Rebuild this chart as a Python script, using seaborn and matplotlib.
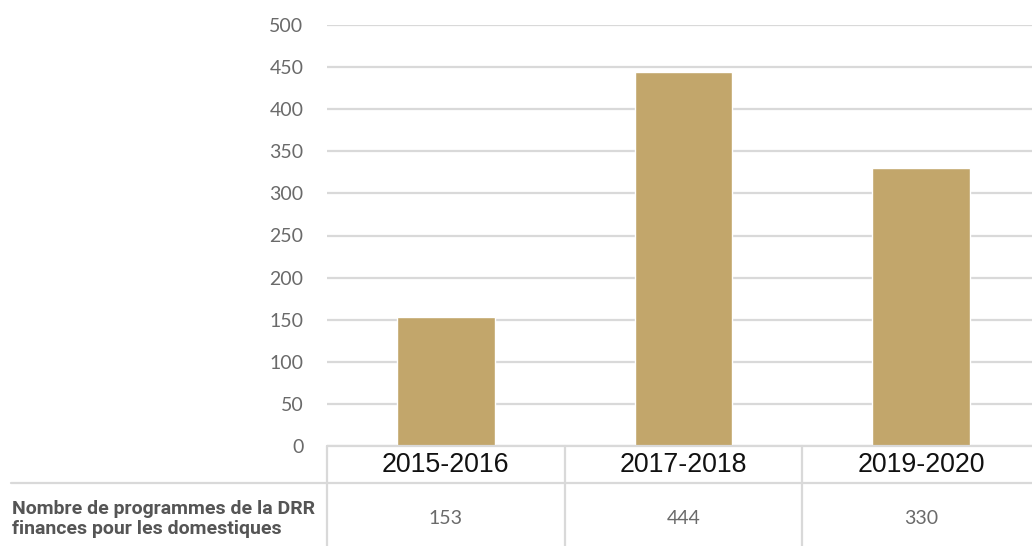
import matplotlib
matplotlib.use("Agg")
import matplotlib.pyplot as plt
import matplotlib.transforms as mtransforms
from matplotlib.lines import Line2D
import seaborn as sns
import pandas as pd

categories = ["2015-2016", "2017-2018", "2019-2020"]
values = [153, 444, 330]
row_label = "Nombre de programmes de la DRR\nfinances pour les domestiques"
yticks = [0, 50, 100, 150, 200, 250, 300, 350, 400, 450, 500]

W, H = 1032, 546
sns.set_theme(style="white")
plt.rcParams["font.family"] = ["Lato", "DejaVu Sans"]

fig = plt.figure(figsize=(W / 100, H / 100), dpi=100)
left, right, top, bottom = 327, 1040, 25, 446
ax = fig.add_axes([left / W, 1 - bottom / H, (right - left) / W, (bottom - top) / H])

df = pd.DataFrame({"period": categories, "value": values})
sns.barplot(data=df, x="period", y="value", color="#C2A66B", width=0.41,
            saturation=1, ax=ax, zorder=3)

ax.set_xlim(-0.5, len(categories) - 0.5)
ax.set_ylim(0, 500)
ax.set_yticks(yticks)
ax.set_yticklabels([str(t) for t in yticks], fontsize=14, color="#6a6a6a")
ax.tick_params(axis="y", length=0, pad=17)
ax.set_xticks([])
ax.set_xlabel("")
ax.set_ylabel("")
for s in ax.spines.values():
    s.set_visible(False)
ax.grid(axis="y", color="#d9d9d9", linewidth=1.6, zorder=0)
ax.set_axisbelow(True)

grid_c = "#d9d9d9"
bt = mtransforms.blended_transform_factory(ax.transData, fig.transFigure)

# table header (years) and values
for i, c in enumerate(categories):
    ax.text(i, 1 - 465 / H, c, transform=bt, ha="center", va="center",
            fontsize=19.3, color="#111111", family=["Liberation Sans", "DejaVu Sans"],
            clip_on=False)
    ax.text(i, 1 - 518 / H, str(values[i]), transform=bt, ha="center", va="center",
            fontsize=14, color="#6a6a6a", clip_on=False)

# vertical table lines
for xv in [-0.5, 0.5, 1.5]:
    fig.add_artist(Line2D([xv, xv], [1 - 446 / H, 0], transform=bt,
                          color=grid_c, linewidth=1.6))
# horizontal separator
fig.add_artist(Line2D([11 / W, 1], [1 - 483 / H, 1 - 483 / H], transform=fig.transFigure,
                      color=grid_c, linewidth=1.6))
# top border of table
fig.add_artist(Line2D([left / W, 1], [1 - 446 / H, 1 - 446 / H], transform=fig.transFigure,
                      color=grid_c, linewidth=1.6))

fig.text(12 / W, 1 - 519 / H, row_label, ha="left", va="center", fontsize=14,
         fontweight="bold", color="#555555", family=["Roboto", "DejaVu Sans"],
         linespacing=1.2)

fig.savefig("out.png", dpi=100)
